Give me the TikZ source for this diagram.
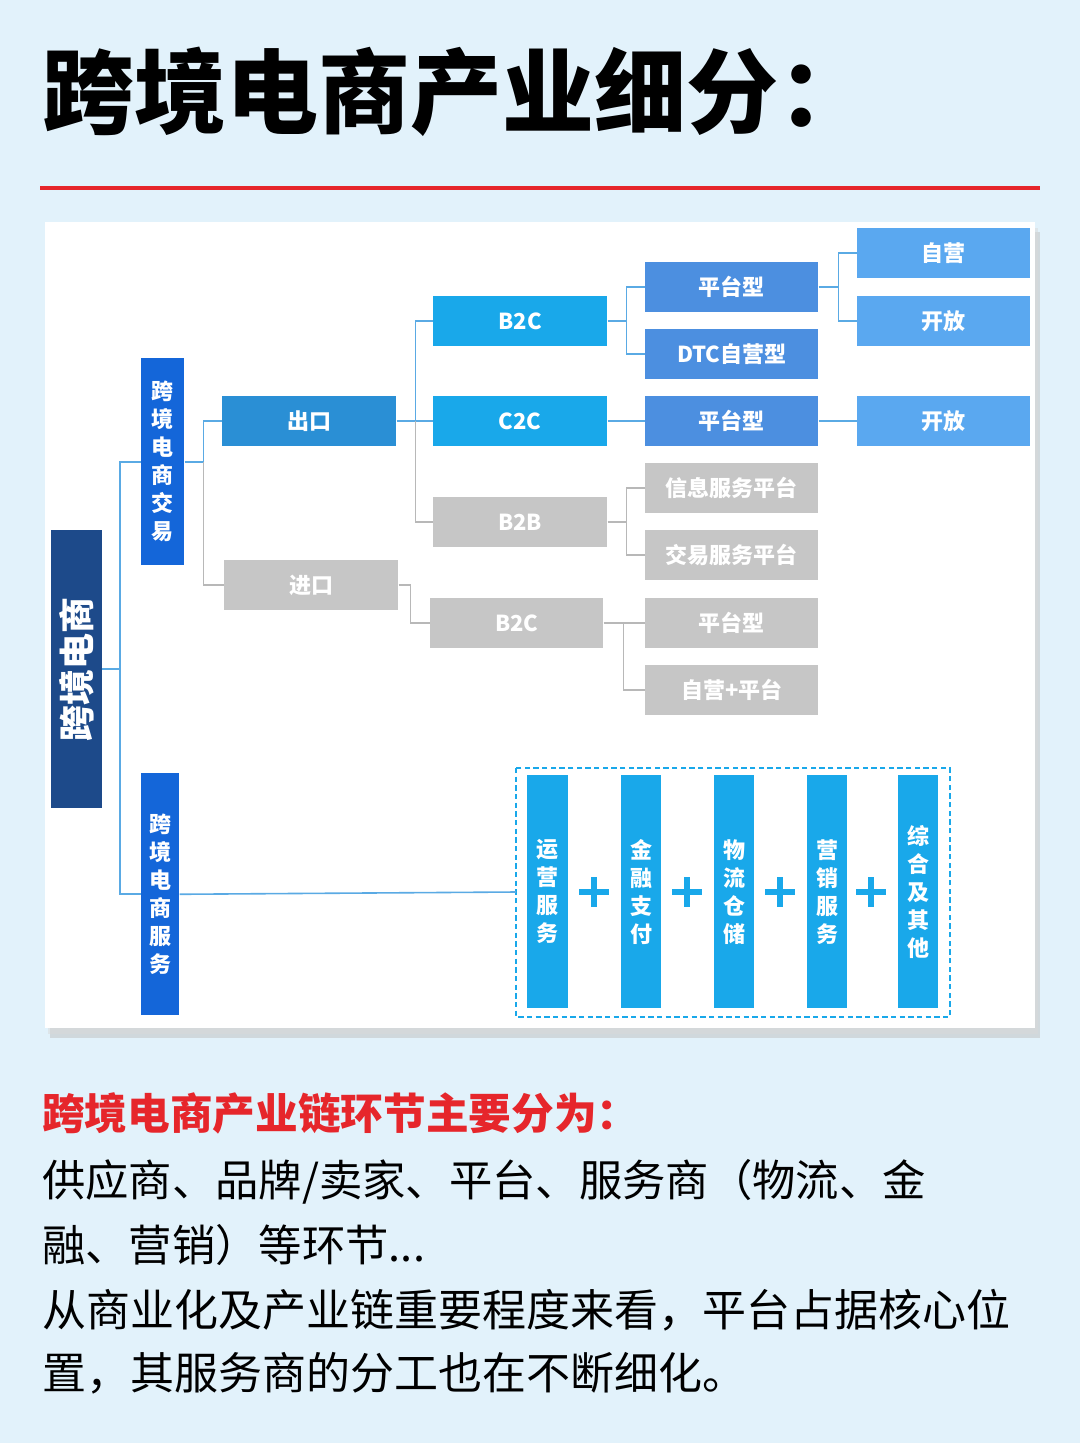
\documentclass[tikz,border=0pt]{standalone}
\usepackage{fontspec}
\setmainfont{Noto Sans CJK SC}
\usetikzlibrary{positioning}
\definecolor{bg}{HTML}{E2F2FB}
\definecolor{navy}{HTML}{1D4A8A}
\definecolor{royal}{HTML}{1466D9}
\definecolor{midb}{HTML}{2A8FD5}
\definecolor{cyanb}{HTML}{19A8EA}
\definecolor{platb}{HTML}{4C8FE0}
\definecolor{lightb}{HTML}{5AA8F0}
\definecolor{grayb}{HTML}{C6C6C6}
\definecolor{redc}{HTML}{E6262B}
\definecolor{lineb}{HTML}{5AAAE4}
\definecolor{lineg}{HTML}{B8B8B8}
\tikzset{
 box/.style={fill=#1,text=white,font=\bfseries\fontsize{16.5}{18}\selectfont,inner sep=0,anchor=north west},
 vbox/.style={fill=#1,text=white,font=\bfseries\fontsize{16.5}{21}\selectfont,inner sep=0,anchor=north west,align=center},
 cb/.style={lineb,line width=1.2pt},
 cg/.style={lineg,line width=1.2pt},
 plus/.style={cyanb,line width=5pt}
}
\newcommand{\bx}[6]{\node[box=#5,minimum width={(#3-#1)*0.75pt},minimum height={(#4-#2)*0.75pt}] (#6) at (#1,#2) {#6x};}
\begin{document}
\begin{tikzpicture}[x=0.75pt,y=-0.75pt]
\fill[bg] (0,0) rectangle (1080,1443);
\useasboundingbox (0,0) rectangle (1080,1443);
\node[anchor=west,font=\bfseries\fontsize{69}{70}\selectfont,inner sep=0] (title) at (42,92) {跨境电商产业细分：};
\draw[redc,line width=3pt] (40,188) -- (1040,188);
% panel
\fill[black!25,opacity=0.5] (50,232) rectangle (1040,1038);
\fill[black!15,opacity=0.5] (48,228) rectangle (1038,1034);
\fill[white] (45,222) rectangle (1035,1028);
% root
\node[fill=navy,text=white,font=\bfseries\fontsize{27}{28}\selectfont,minimum width={278*0.75pt},minimum height={51*0.75pt},rotate=90,inner sep=0] (root) at (76.5,669) {跨境电商};
\node[vbox=royal,minimum width={43*0.75pt},minimum height={207*0.75pt}] (trade) at (141,358) {跨\\境\\电\\商\\交\\易};
\node[vbox=royal,minimum width={38*0.75pt},minimum height={242*0.75pt}] (serv) at (141,773) {跨\\境\\电\\商\\服\\务};
% level boxes
\node[box=midb,minimum width={174*0.75pt},minimum height={50*0.75pt}] (ck) at (222,396) {出口};
\node[box=grayb,minimum width={174*0.75pt},minimum height={50*0.75pt}] (jk) at (224,560) {进口};
\node[box=cyanb,minimum width={174*0.75pt},minimum height={50*0.75pt}] (b2c) at (433,296) {B2C};
\node[box=cyanb,minimum width={174*0.75pt},minimum height={50*0.75pt}] (c2c) at (433,396) {C2C};
\node[box=grayb,minimum width={174*0.75pt},minimum height={50*0.75pt}] (b2b) at (433,497) {B2B};
\node[box=grayb,minimum width={173*0.75pt},minimum height={50*0.75pt}] (b2ci) at (430,598) {B2C};
\node[box=platb,minimum width={173*0.75pt},minimum height={50*0.75pt}] (p1) at (645,262) {平台型};
\node[box=platb,minimum width={173*0.75pt},minimum height={50*0.75pt}] (dtc) at (645,329) {DTC自营型};
\node[box=platb,minimum width={173*0.75pt},minimum height={50*0.75pt}] (p2) at (645,396) {平台型};
\node[box=grayb,minimum width={173*0.75pt},minimum height={50*0.75pt}] (info) at (645,463) {信息服务平台};
\node[box=grayb,minimum width={173*0.75pt},minimum height={50*0.75pt}] (jy) at (645,530) {交易服务平台};
\node[box=grayb,minimum width={173*0.75pt},minimum height={50*0.75pt}] (p3) at (645,598) {平台型};
\node[box=grayb,minimum width={173*0.75pt},minimum height={50*0.75pt}] (zyp) at (645,665) {自营+平台};
\node[box=lightb,minimum width={173*0.75pt},minimum height={50*0.75pt}] (zy) at (857,228) {自营};
\node[box=lightb,minimum width={173*0.75pt},minimum height={50*0.75pt}] (kf1) at (857,296) {开放};
\node[box=lightb,minimum width={173*0.75pt},minimum height={50*0.75pt}] (kf2) at (857,396) {开放};
% service boxes
\draw[cyanb,line width=1.3pt,dash pattern=on 4pt off 2.5pt] (516,768) rectangle (950,1017);
\coordinate (dl) at (516,892);
\node[vbox=cyanb,minimum width={41*0.75pt},minimum height={233*0.75pt}] (s1) at (527,775) {运\\营\\服\\务};
\node[vbox=cyanb,minimum width={40*0.75pt},minimum height={233*0.75pt}] (s2) at (621,775) {金\\融\\支\\付};
\node[vbox=cyanb,minimum width={40*0.75pt},minimum height={233*0.75pt}] (s3) at (714,775) {物\\流\\仓\\储};
\node[vbox=cyanb,minimum width={40*0.75pt},minimum height={233*0.75pt}] (s4) at (807,775) {营\\销\\服\\务};
\node[vbox=cyanb,minimum width={40*0.75pt},minimum height={233*0.75pt}] (s5) at (898,775) {综\\合\\及\\其\\他};
\foreach \x in {594,687,780,871}{\draw[plus] (\x-15,892)--(\x+15,892) (\x,877)--(\x,907);}
% connectors
\draw[cb] (root.south) -- ++(18,0) coordinate (r1);
\draw[cb] (trade.west) -| (r1) |- (serv.west);
\draw[cb] (serv.east) -- (dl);
\draw[cb] (trade.east) -- ++(19,0) coordinate (t1);
\draw[cb] (ck.west) -| (t1);
\draw[cg] (t1) |- (jk.west);
\draw[cb] (ck.east) -- ++(19,0) coordinate (c1);
\draw[cb] (b2c.west) -| (c1) -- (c2c.west);
\draw[cg] (c1) |- (b2b.west);
\draw[cg] (jk.east) -- ++(12,0) |- (b2ci.west);
\draw[cb] (b2c.east) -- ++(19,0) coordinate (b1);
\draw[cb] (p1.west) -| (b1) |- (dtc.west);
\draw[cb] (c2c.east) -- (p2.west);
\draw[cb] (p2.east) -- (kf2.west);
\draw[cg] (b2b.east) -- ++(19,0) coordinate (bb);
\draw[cg] (info.west) -| (bb) |- (jy.west);
\draw[cg] (b2ci.east) -- ++(20,0) coordinate (bi);
\draw[cg] (p3.west) -| (bi) |- (zyp.west);
\draw[cb] (p1.east) -- ++(20,0) coordinate (pp);
\draw[cb] (zy.west) -| (pp) |- (kf1.west);
% texts
\node[anchor=west,inner sep=0,text=redc,font=\bfseries\fontsize{32}{34}\selectfont] (h) at (42,1113) {跨境电商产业链环节主要分为：};
\node[anchor=west,inner sep=0,font=\fontsize{32.5}{34}\selectfont] (l1) at (42,1182) {供应商、品牌/卖家、平台、服务商（物流、金};
\node[anchor=west,inner sep=0,font=\fontsize{32.5}{34}\selectfont] (l2) at (42,1245) {融、营销）等环节...};
\node[anchor=west,inner sep=0,font=\fontsize{33}{34}\selectfont] (l3) at (42,1310) {从商业化及产业链重要程度来看，平台占据核心位};
\node[anchor=west,inner sep=0,font=\fontsize{33}{34}\selectfont] (l4) at (42,1373) {置，其服务商的分工也在不断细化。};
\end{tikzpicture}
\end{document}
